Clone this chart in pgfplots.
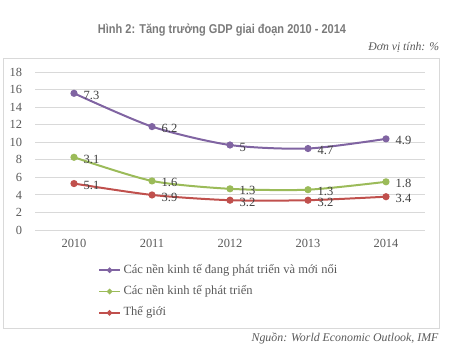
\documentclass[border=0pt]{standalone}
\usepackage{pgfplots}
\pgfplotsset{compat=1.18}
\usepackage{graphicx}
\usepackage{fontspec}
\setmainfont{Liberation Serif}
\newfontfamily\titlefont{Liberation Sans}
\definecolor{cpurple}{HTML}{8064A2}
\definecolor{cgreen}{HTML}{9BBB59}
\definecolor{cred}{HTML}{C0504D}
\definecolor{cgrid}{HTML}{D9D9D9}
\definecolor{ctext}{HTML}{595959}
\definecolor{clabel}{HTML}{404040}
\begin{document}
\begin{tikzpicture}
\path (0,0) rectangle (356.25pt,263.25pt);
\draw[cgrid, line width=0.75pt] (2.25pt,17.25pt) rectangle (329.25pt,219pt);
\node[font=\titlefont\bfseries\fontsize{9.6}{11}\selectfont, text=black!52, inner sep=0pt] at (166.5pt,240.75pt) {\scalebox{0.86}[1]{Hình 2: Tăng trưởng GDP giai đoạn 2010 - 2014}};
\node[font=\itshape\fontsize{8.8}{10}\selectfont, text=ctext, anchor=east, inner sep=0pt] at (329.5pt,227.5pt) {Đơn vị tính: \%};
\node[font=\itshape\fontsize{8.9}{10}\selectfont, text=ctext, anchor=east, inner sep=0pt] at (329pt,9.5pt) {Nguồn: World Economic Outlook, IMF};
\begin{axis}[
  at={(26.25pt,90.75pt)}, anchor=south west,
  scale only axis, width=292.5pt, height=118.3pt,
  xmin=-0.5, xmax=4.5, ymin=0, ymax=18,
  xtick={0,1,2,3,4}, xticklabels={2010,2011,2012,2013,2014},
  ytick={0,2,...,18},
  ymajorgrids, grid style={cgrid, line width=0.75pt},
  axis line style={draw=none}, major tick length=0pt,
  /pgf/number format/assume math mode=true,
  tick label style={font=\fontsize{9.3}{10}\selectfont, text=ctext},
  yticklabel style={anchor=east, inner sep=0pt, xshift=-9.5pt},
  xticklabel style={anchor=north, inner sep=0pt, yshift=-6.5pt},
  every axis plot/.append style={line width=1.5pt, smooth, tension=0.45, mark=*, mark size=1.9pt},
  point meta=explicit symbolic,
  nodes near coords,
  nodes near coords style={anchor=west, inner sep=0pt, xshift=6.5pt, yshift=-1.5pt, font=\fontsize{9.4}{10}\selectfont, text=clabel},
  legend cell align=left,
  legend style={at={(0.1615,-0.213)}, anchor=north west, draw=none, fill=none, inner sep=0pt,
    font=\fontsize{9.4}{10}\selectfont, text=ctext, row sep=6.5pt, column sep=2pt,
    nodes={inner sep=0pt, text height=7pt, text depth=2.5pt}},
  legend image code/.code={\draw[mark repeat=2, mark phase=2, line width=1.2pt, mark size=1.4pt, #1] plot coordinates {(0pt,0pt) (7.9pt,0pt) (15.75pt,0pt)};},
]
\addplot[cpurple, mark options={fill=cpurple, draw=cpurple}] coordinates {(0,15.6)[7.3] (1,11.8)[6.2] (2,9.7)[5] (3,9.3)[4.7] (4,10.4)[4.9]};
\addlegendentry{Các nền kinh tế đang phát triển và mới nổi}
\addplot[cgreen, mark options={fill=cgreen, draw=cgreen}] coordinates {(0,8.3)[3.1] (1,5.6)[1.6] (2,4.7)[1.3] (3,4.6)[1.3] (4,5.5)[1.8]};
\addlegendentry{Các nền kinh tế phát triển}
\addplot[cred, mark options={fill=cred, draw=cred}] coordinates {(0,5.3)[5.1] (1,4.0)[3.9] (2,3.4)[3.2] (3,3.4)[3.2] (4,3.8)[3.4]};
\addlegendentry{Thế giới}
\end{axis}
\end{tikzpicture}
\end{document}
